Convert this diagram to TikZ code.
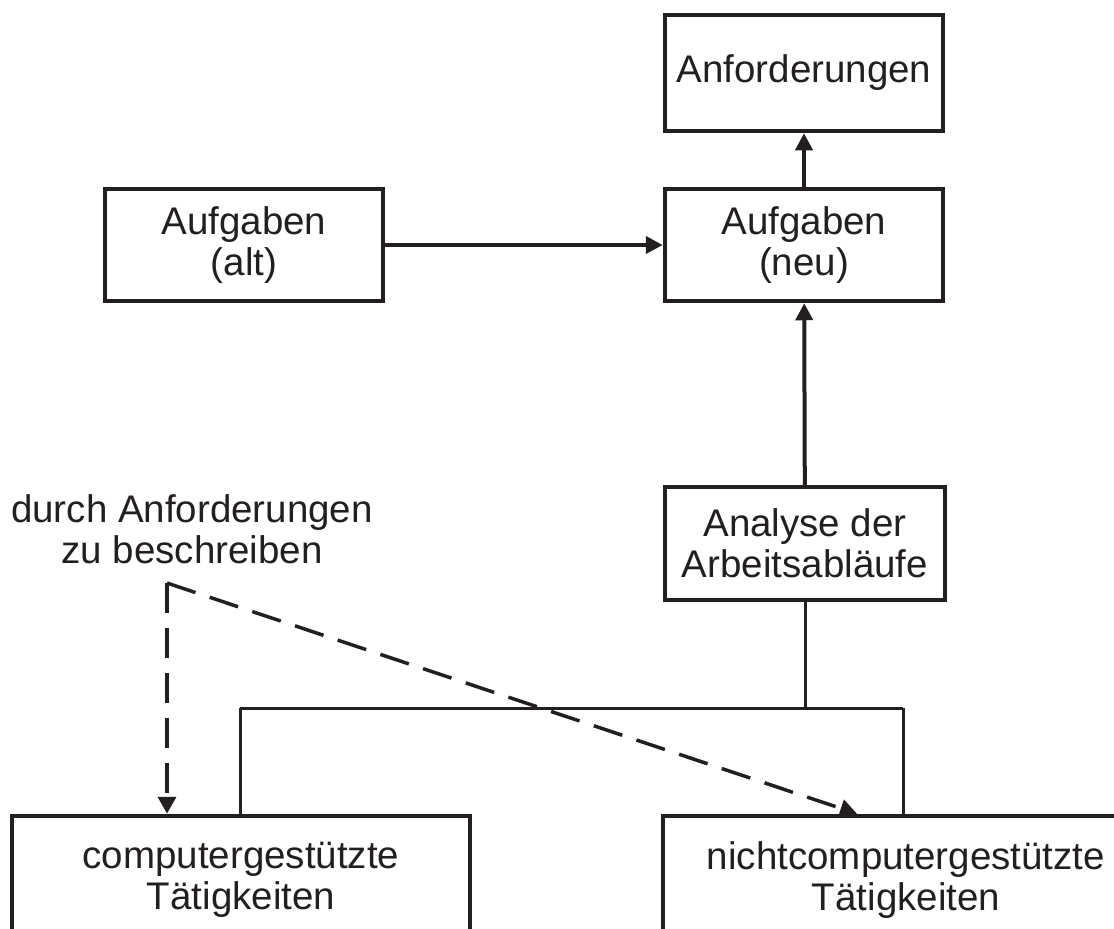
\documentclass[tikz,border=0pt]{standalone}
\usepackage{fontspec}
\setmainfont{Liberation Sans}
\usetikzlibrary{arrows.meta}
\definecolor{ink}{RGB}{35,31,32}
\begin{document}
\begin{tikzpicture}[x=1pt,y=-1pt,
  every node/.style={font=\fontsize{38.5}{41}\selectfont, text=ink},
  box/.style={draw=ink, line width=4.5pt, align=center, inner sep=0pt},
  flow/.style={draw=ink, line width=4pt, -{Triangle[length=17pt,width=17pt]}},
  tree/.style={draw=ink, line width=3pt},
  hint/.style={draw=ink, line width=3.5pt, dash pattern=on 30pt off 15pt,
               -{Triangle[length=17pt,width=18pt]}}]
\useasboundingbox (0,0) rectangle (1114,929);
\clip (0,0) rectangle (1114,929);

% boxes
\node[box, minimum width=278pt, minimum height=116pt] (anf) at (804,73) {Anforderungen};
\node[box, minimum width=278pt, minimum height=112pt] (neu) at (804,245) {Aufgaben\\(neu)};
\node[box, minimum width=278pt, minimum height=112pt] (alt) at (244,245) {Aufgaben\\(alt)};
\node[box, minimum width=280pt, minimum height=113pt] (ana) at (805,543.5) {Analyse der\\Arbeitsabläufe};
\node[box, minimum width=458pt, minimum height=128pt] (comp) at (241,880) {computergestützte\\Tätigkeiten};
\node[box, minimum width=486pt, minimum height=128pt] (nicht) at (906,880) {nichtcomputergestützte\\Tätigkeiten};

% note
\node[align=center, inner sep=0pt] (note) at (192,529) {durch Anforderungen\\zu beschreiben};

% main flow
\draw[flow] (alt) -- (neu);
\draw[flow] (neu) -- (anf);
\draw[flow] (ana) -- (neu);

% branching into the two kinds of activities
\coordinate (jl) at (240,708);
\coordinate (jr) at (903,708);
\draw[tree] (ana.south) -- (ana.south |- jl);
\draw[tree] (jl) -- (jr);
\draw[tree] (jl) -- (jl |- comp.north);
\draw[tree] (jr) -- (jr |- nicht.north);

% dashed pointers from the note
\coordinate (dstart) at (167,583);
\coordinate (dtip) at (857,0);
\draw[hint] (dstart) -- (dstart |- comp.north);
\draw[hint] (dstart) -- (dtip |- nicht.north);
\end{tikzpicture}
\end{document}
